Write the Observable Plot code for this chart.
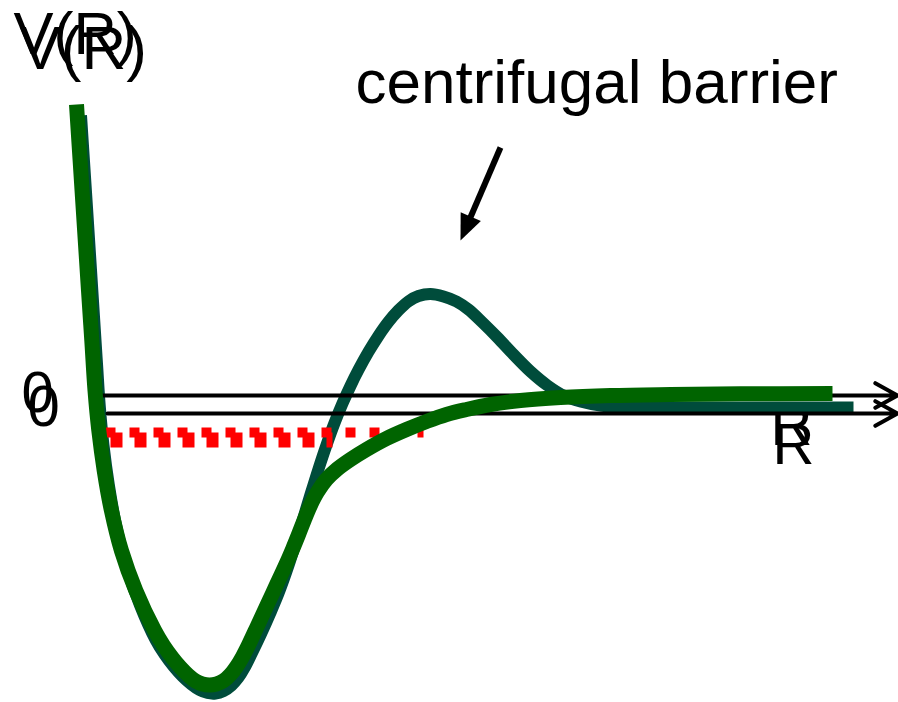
<!DOCTYPE html>
<html>
<head>
<meta charset="utf-8">
<script src="https://cdn.jsdelivr.net/npm/d3@7"></script>
<script src="https://cdn.jsdelivr.net/npm/@observablehq/plot@0.6"></script>
<style>
  body { margin: 0; background: #ffffff; }
  #chart { position: relative; width: 898px; height: 702px; overflow: hidden; background: #ffffff; }
  #chart svg { position: absolute; left: 0; top: 0; }
</style>
</head>
<body>
<div id="chart"></div>
<script>
// Effective potential with a centrifugal barrier (back layer)
const barrierR = [0.105, 0.17, 0.234, 0.266, 0.292, 0.33, 0.384, 0.456, 0.556, 0.696, 0.854, 0.94, 1.03, 1.12, 1.21, 1.29, 1.37,
  1.45, 1.53, 1.61, 1.68, 1.74, 1.815, 1.905, 2.00, 2.08, 2.16, 2.24, 2.32, 2.40, 2.48, 2.56, 2.64, 2.72, 2.80, 2.88, 2.98,
  3.08, 3.18, 3.28, 3.38, 3.48, 3.60, 3.73, 3.86, 3.98, 4.12, 4.27, 4.43, 4.60, 4.77, 4.93, 5.10, 5.30, 5.60, 6.10, 7.83];
const barrierV = [2.98, 1.98, 0.98, 0.48, 0.08, -0.32, -0.72, -1.12, -1.52, -1.92, -2.27, -2.41, -2.53, -2.63, -2.71, -2.765, -2.795,
  -2.80, -2.776, -2.72, -2.64, -2.544, -2.394, -2.205, -1.991, -1.799, -1.579, -1.335, -1.075, -0.811, -0.555, -0.315, -0.095, 0.101, 0.277, 0.437, 0.617,
  0.777, 0.917, 1.032, 1.122, 1.175, 1.195, 1.17, 1.12, 1.04, 0.91, 0.76, 0.59, 0.42, 0.28, 0.18, 0.12, 0.08, 0.06, 0.06, 0.06];

// Plain potential well without the barrier (front layer)
const wellR = [0.06, 0.12, 0.18, 0.213, 0.245, 0.283, 0.337, 0.409, 0.509, 0.653, 0.841, 0.93, 1.02, 1.10, 1.18, 1.25, 1.32, 1.39,
  1.46, 1.53, 1.60, 1.66, 1.72, 1.78, 1.87, 1.96, 2.05, 2.14, 2.22, 2.28, 2.34, 2.40, 2.47, 2.56, 2.67, 2.80, 2.96, 3.16,
  3.36, 3.56, 3.76, 3.96, 4.20, 4.50, 4.90, 5.40, 6.00, 6.70, 7.62];
const wellV = [2.91, 1.98, 1.05, 0.55, 0.05, -0.35, -0.75, -1.15, -1.55, -1.95, -2.35, -2.50, -2.625, -2.72, -2.80, -2.855, -2.885, -2.895,
  -2.885, -2.853, -2.79, -2.712, -2.613, -2.496, -2.303, -2.108, -1.915, -1.722, -1.538, -1.391, -1.238, -1.097, -0.964, -0.838, -0.734, -0.64, -0.54, -0.43,
  -0.34, -0.26, -0.19, -0.14, -0.09, -0.05, -0.02, 0.00, 0.01, 0.017, 0.02];

// Bound-state energy levels (dashed)
const barrierLevelR = [0.40, 2.62];
const barrierLevelV = [-0.265, -0.265];
const wellLevelR = [0.35, 3.53];
const wellLevelV = [-0.37, -0.37];

// R axes
const barrierAxisR = [0.37, 8.27];
const wellAxisR = [0.30, 8.27];

// Labels
const axisLabelV = "V(R)";
const axisLabelR = "R";
const zeroLabel = "0";
const barrierNote = "centrifugal barrier";

// Pointer from the note to the top of the barrier
const pointerR = [4.30, 3.90];
const pointerV = [2.66, 1.73];

const font = "'Liberation Sans', Arial, Helvetica, sans-serif";
const teal = "#004c3b";
const green = "#006400";
const red = "#ff0000";

const toPts = (R, V) => R.map((r, i) => ({r, v: V[i]}));

const xOpt = {domain: [0, 8.2], range: [70, 890], axis: null};
const yBack = {domain: [-2.9, 2.9], range: [703, 123], axis: null};
const yFront = {domain: [-2.9, 2.9], range: [685, 105], axis: null};

// Filled arrowhead for the pointer, built in pixel space then mapped back to data
const xs = Plot.scale({x: xOpt});
const ys = Plot.scale({y: yBack});
const tail = [xs.apply(pointerR[0]), ys.apply(pointerV[0])];
const tip = [xs.apply(pointerR[1]), ys.apply(pointerV[1])];
const ddx = tip[0] - tail[0], ddy = tip[1] - tail[1];
const len = Math.hypot(ddx, ddy);
const ux = ddx / len, uy = ddy / len;
const headLen = 26, headHalf = 11;
const base = [tip[0] - headLen * ux, tip[1] - headLen * uy];
const headPx = [
  tip,
  [base[0] - headHalf * uy, base[1] + headHalf * ux],
  [base[0] + headHalf * uy, base[1] - headHalf * ux],
  tip
];
const head = headPx.map(([px, py]) => ({r: xs.invert(px), v: ys.invert(py)}));
const shaft = [
  {r: pointerR[0], v: pointerV[0]},
  {r: xs.invert(base[0] + 4 * ux), v: ys.invert(base[1] + 4 * uy)}
];

const common = {
  width: 898,
  height: 702,
  margin: 0,
  x: xOpt,
  style: {background: "transparent", overflow: "visible", fontFamily: font}
};

const axisArrow = (R) => Plot.arrow([0], {
  x1: () => R[0], x2: () => R[1], y1: () => 0, y2: () => 0,
  stroke: "black", strokeWidth: 4, headLength: 9.5, headAngle: 58
});

const back = Plot.plot({
  ...common,
  y: yBack,
  marks: [
    Plot.text([axisLabelR], {x: () => 7.21, y: () => -0.13, text: d => d, fontSize: 58, fill: "black"}),
    Plot.text([axisLabelR], {x: () => 7.23, y: () => -0.32, text: d => d, fontSize: 58, fill: "black"}),
    Plot.line(toPts(barrierR, barrierV), {x: "r", y: "v", stroke: teal, strokeWidth: 12, curve: "catmull-rom", strokeLinecap: "butt", strokeLinejoin: "round"}),
    Plot.line(toPts(barrierLevelR, barrierLevelV), {x: "r", y: "v", stroke: red, strokeWidth: 15, strokeDasharray: "12,12", strokeLinecap: "butt"}),
    axisArrow(barrierAxisR),
    Plot.text([axisLabelV], {x: () => -0.51, y: () => 3.64, text: d => d, textAnchor: "start", fontSize: 62, fill: "black"}),
    Plot.text([zeroLabel], {x: () => -0.27, y: () => 0.06, text: d => d, fontSize: 58, fill: "black"}),
    Plot.text([barrierNote], {x: () => 2.85, y: () => 3.30, text: d => d, textAnchor: "start", fontSize: 62, fill: "black"}),
    Plot.line(shaft, {x: "r", y: "v", stroke: "black", strokeWidth: 6, strokeLinecap: "butt"}),
    Plot.line(head, {x: "r", y: "v", fill: "black", stroke: "none"})
  ]
});

const front = Plot.plot({
  ...common,
  y: yFront,
  marks: [
    Plot.line(toPts(wellLevelR, wellLevelV), {x: "r", y: "v", stroke: red, strokeWidth: 10, strokeDasharray: "10,14", strokeLinecap: "butt"}),
    axisArrow(wellAxisR),
    Plot.line(toPts(wellR, wellV), {x: "r", y: "v", stroke: green, strokeWidth: 15, curve: "catmull-rom", strokeLinecap: "butt", strokeLinejoin: "round"}),
    Plot.text([axisLabelV], {x: () => -0.57, y: () => 3.61, text: d => d, textAnchor: "start", fontSize: 60, fill: "black"}),
    Plot.text([zeroLabel], {x: () => -0.33, y: () => 0.02, text: d => d, fontSize: 58, fill: "black"})
  ]
});

const chart = document.getElementById("chart");
chart.appendChild(back);
chart.appendChild(front);
</script>
</body>
</html>
